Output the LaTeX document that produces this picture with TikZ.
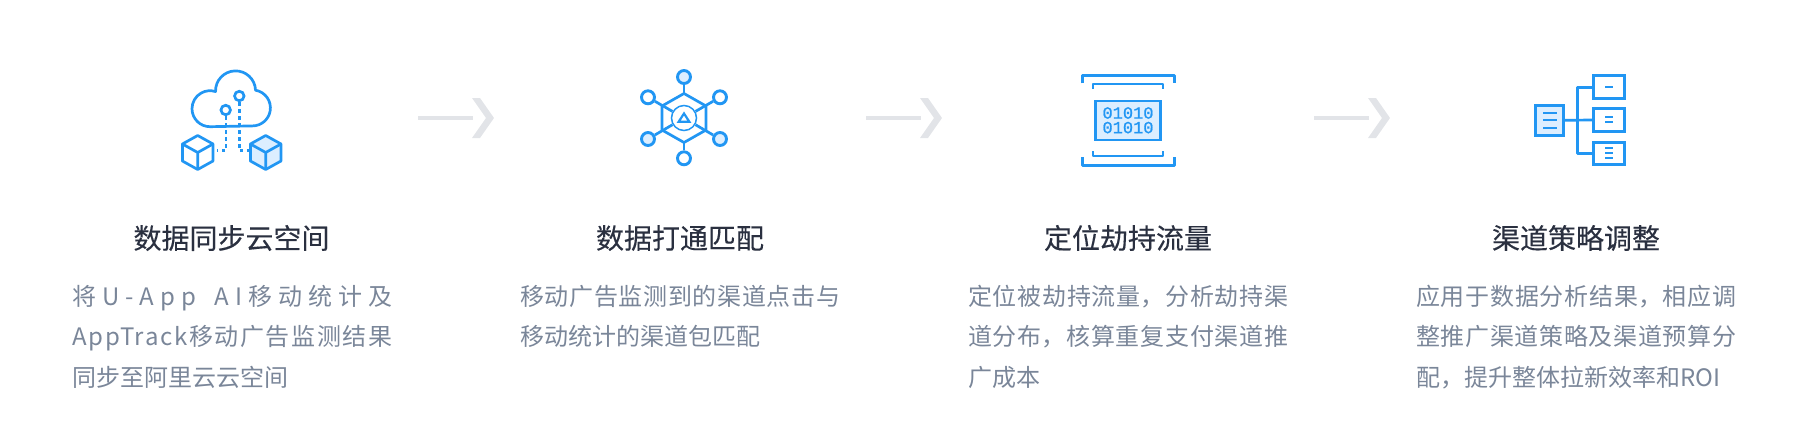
\documentclass[tikz,border=0pt]{standalone}
\usepackage{fontspec}
\setmainfont{Noto Sans CJK SC}
\newfontfamily\titlefont[FakeBold=0.25]{Noto Sans CJK SC}
\newfontfamily\widefont[LetterSpace=7]{Noto Sans CJK SC}
\newfontfamily\digitfont[FakeBold=1]{Liberation Mono}
\definecolor{iconblue}{RGB}{33,150,243}
\definecolor{iconfill}{RGB}{220,238,255}
\definecolor{arrowgray}{RGB}{226,228,232}
\definecolor{titlegray}{RGB}{42,48,64}
\definecolor{bodygray}{RGB}{122,134,153}
\XeTeXlinebreaklocale "zh"
\XeTeXlinebreakskip=0pt plus 2pt
\usetikzlibrary{arrows.meta,positioning,calc}
\tikzset{
  iconline/.style={draw=iconblue,line width=2.7pt,line join=round},
  dotline/.style={draw=iconblue,line width=2.4pt,dash pattern=on 3.4pt off 3.6pt},
  sat/.style={circle,draw=iconblue,line width=2.9pt,fill=white,inner sep=0pt,minimum size=13pt},
  satfill/.style={sat,fill=iconfill},
  leaf/.style={rectangle,draw=iconblue,line width=3pt,fill=white,inner sep=0pt,minimum width=31pt,minimum height=22.5pt},
  titletext/.style={font=\fontsize{28}{32}\selectfont\titlefont,text=titlegray,inner sep=0pt},
  bodytext/.style={anchor=north west,inner sep=0pt,text width=320pt,align=justify,text=bodygray,
    font=\fontsize{24}{40.3}\selectfont}
}
\begin{document}
\begin{tikzpicture}[x=1pt,y=-1pt]
  \useasboundingbox (0,0) rectangle (1800,440);
  %% Icon 1: cloud and two cubes
  \draw[iconline] (210,126.7) arc[start angle=270,end angle=72,radius=18pt]
    arc[start angle=182,end angle=2,radius=20pt]
    arc[start angle=80,end angle=-90,radius=18pt] -- cycle;
  \node[circle,draw=iconblue,line width=2.7pt,inner sep=0pt,minimum size=9.5pt] (pina) at (225.7,110) {};
  \node[circle,draw=iconblue,line width=2.7pt,inner sep=0pt,minimum size=9.5pt] (pinb) at (239.3,96) {};
  \coordinate (lefttap) at (216.7,150.5);
  \coordinate (righttap) at (249,150.5);
  \draw[dotline] (pina.south) |- (lefttap);
  \draw[dotline] (pinb.south) |- (righttap);
  \foreach \cx/\cfill in {197.7/white,265.7/iconfill}{
    \draw[iconline,fill=\cfill] (\cx,135.5) -- (\cx+15.3,144) -- (\cx+15.3,161) -- (\cx,169.5)
      -- (\cx-15.3,161) -- (\cx-15.3,144) -- cycle;
    \draw[iconline] (\cx-15.3,144) -- (\cx,152.5) -- (\cx+15.3,144) (\cx,152.5) -- (\cx,169.5);
  }
  %% Icon 2: hexagon hub with six satellites
  \draw[iconline] (684,93.5) -- (706,106) -- (706,130) -- (684,142.5) -- (662,130) -- (662,106) -- cycle;
  \node[circle,draw=iconblue,line width=1.5pt,inner sep=0pt,minimum size=25pt] (hub) at (684,118) {};
  \draw[draw=iconblue,line width=2.2pt] (684,113.5) -- (689.3,121.7) -- (678.7,121.7) -- cycle;
  \node[satfill] (sattop) at (684,77) {};
  \node[sat]     (satur)  at (720,97.3) {};
  \node[satfill] (satlr)  at (720,139) {};
  \node[sat]     (satbot) at (684,158.3) {};
  \node[satfill] (satll)  at (648,139) {};
  \node[sat]     (satul)  at (648,97.3) {};
  \draw[iconline] (sattop) -- (684,93.5) (satbot) -- (684,142.5);
  \foreach \s in {satur,satlr,satll,satul}{
    \draw[iconline] (\s) -- (hub);
  }
  %% Icon 3: binary panel in brackets
  \draw[iconline,line width=3pt] (1082.7,83.3) |- (1174,75) -- (1174,83.3);
  \draw[iconline,line width=3pt] (1082.7,157) |- (1174,165.3) -- (1174,157);
  \draw[iconline,line width=1.9pt] (1092.7,89) |- (1163.3,84.3) -- (1163.3,89);
  \draw[iconline,line width=1.9pt] (1092.7,151) |- (1163.3,156) -- (1163.3,151);
  \node[rectangle,draw=iconblue,line width=2.3pt,fill=iconfill,inner sep=0pt,minimum width=65pt,minimum height=39pt,
        align=center,text=iconblue,font=\fontsize{17}{14.6}\selectfont\digitfont]
        (panel) at (1128,120.3) {01010\\01010};
  %% Icon 4: source box and three leaves
  \node[rectangle,draw=iconblue,line width=3pt,fill=iconfill,inner sep=0pt,minimum width=28pt,minimum height=29.5pt]
        (srcbox) at (1549.5,120.3) {};
  \node[leaf] (topbox) at (1609,87.2) {};
  \node[leaf] (midbox) at (1609,120) {};
  \node[leaf] (lowbox) at (1609,153.5) {};
  \coordinate (trunk) at (1577.3,120.3);
  \draw[iconline] (srcbox.east) -- (midbox.west);
  \draw[iconline] (topbox.west) -| (trunk) |- (lowbox.west);
  \foreach \y in {112.7,120,127.7}{
    \draw[iconblue,line width=2pt] (1543.3,\y) -- (1556.7,\y);
  }
  \foreach \y in {87,117.3,122.3,148.3,153.3,158.3}{
    \draw[iconblue,line width=2pt] (1605,\y) -- (1613.3,\y);
  }
  %% Arrows between the steps
  \foreach \n/\dx in {a/0,b/448,c/896}{
    \coordinate (tail\n) at (418+\dx,118);
    \coordinate (head\n) at (473+\dx,118);
    \draw[arrowgray,line width=4pt] (tail\n) -- (head\n);
    \fill[arrowgray] (head\n) ++(-1,-20) -- ++(8,0) -- ++(14,20) -- ++(-14,20) -- ++(-8,0) -- ++(14,-20) -- cycle;
  }
  %% Step titles
  \node[titletext] (titlea) at (231.5,238) {数据同步云空间};
  \node[titletext] (titleb) at (680,238) {数据打通匹配};
  \node[titletext] (titlec) at (1128,238) {定位劫持流量};
  \node[titletext] (titled) at (1576,238) {渠道策略调整};
  %% Step texts
  \node[bodytext] (bodya) at (72,285) {\makebox[320pt][s]{将\hfil U\hfil -\hfil A\hfil p\hfil p\hfil\hfil\hfil A\hfil I\hfil 移\hfil 动\hfil 统\hfil 计\hfil 及}\\
    \makebox[320pt][s]{{\widefont AppTrack}\hfil 移\hfil 动\hfil 广\hfil 告\hfil 监\hfil 测\hfil 结\hfil 果}\\同步至阿里云云空间};
  \node[bodytext] (bodyb) at (520,285) {移动广告监测到的渠道点击与移动统计的渠道包匹配};
  \node[bodytext] (bodyc) at (968,285) {定位被劫持流量，分析劫持渠道分布，核算重复支付渠道推广成本};
  \node[bodytext] (bodyd) at (1416,285) {应用于数据分析结果，相应调整推广渠道策略及渠道预算分配，提升整体拉新效率和ROI};
\end{tikzpicture}
\end{document}
